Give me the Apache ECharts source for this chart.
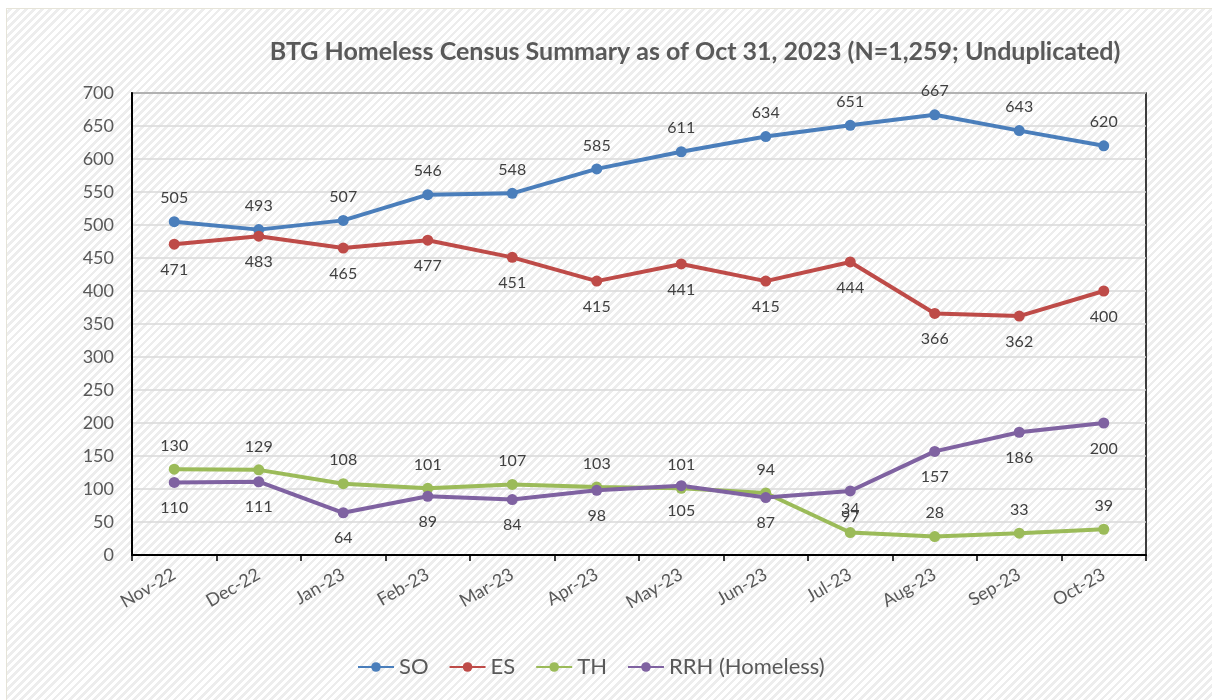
<!DOCTYPE html>
<html>
<head>
<meta charset="utf-8">
<script src="https://cdn.jsdelivr.net/npm/echarts@6/dist/echarts.min.js"></script>
<style>
  html, body { margin: 0; padding: 0; background: #fff; }
  #frame {
    position: absolute; left: 6px; top: 8px; width: 1212px; height: 700px;
    border: 1px solid #e6e4d8;
    background: repeating-linear-gradient(-45deg, #ffffff 0px, #ffffff 3px, #ededed 3px, #ededed 5.7px);
  }
  #chart { position: absolute; left: 0; top: 0; width: 1212px; height: 700px; }
</style>
</head>
<body>
<div id="frame"></div>
<div id="chart"></div>
<script>
const months = ["Nov-22", "Dec-22", "Jan-23", "Feb-23", "Mar-23", "Apr-23", "May-23", "Jun-23", "Jul-23", "Aug-23", "Sep-23", "Oct-23"];
const soValues = [505, 493, 507, 546, 548, 585, 611, 634, 651, 667, 643, 620];
const esValues = [471, 483, 465, 477, 451, 415, 441, 415, 444, 366, 362, 400];
const thValues = [130, 129, 108, 101, 107, 103, 101, 94, 34, 28, 33, 39];
const rrhValues = [110, 111, 64, 89, 84, 98, 105, 87, 97, 157, 186, 200];

const palette = {
  so: "#4a7ebb",
  es: "#be4b48",
  th: "#9bbb59",
  rrh: "#7f62a1",
  text: "#595959",
  label: "#404040",
};
const font = "Lato";

function lineSeries(name, data, color, position) {
  return {
    name,
    type: "line",
    data,
    symbol: "circle",
    symbolSize: 11,
    lineStyle: { width: 4, color },
    itemStyle: { color },
    label: {
      show: true,
      position,
      distance: position === "top" ? 10 : 12,
      color: palette.label,
      fontSize: 16,
      fontFamily: font,
    },
  };
}

const chart = echarts.init(document.getElementById("chart"), null, { renderer: "canvas" });
chart.setOption({
  backgroundColor: "transparent",
  animation: false,
  title: {
    text: "BTG Homeless Census Summary as of Oct 31, 2023 (N=1,259; Unduplicated)",
    left: 690,
    textAlign: "center",
    top: 34,
    textStyle: { color: palette.text, fontSize: 25, fontWeight: "bold", fontFamily: font },
  },
  legend: {
    bottom: 17,
    left: 352,
    itemWidth: 36,
    itemHeight: 12,
    itemGap: 20,
    textStyle: { color: palette.text, fontSize: 22, fontFamily: font },
    data: ["SO", "ES", "TH", "RRH (Homeless)"],
  },
  grid: {
    left: 132, right: 1212 - 1146, top: 93, bottom: 700 - 555,
    show: true, borderColor: "#000", borderWidth: 1.5, backgroundColor: "transparent",
  },
  xAxis: {
    type: "category",
    data: months,
    boundaryGap: true,
    axisLine: { lineStyle: { color: "#000", width: 2 } },
    axisTick: { show: true, length: 6, lineStyle: { color: "#000", width: 1.5 } },
    axisLabel: { color: palette.text, fontSize: 18, rotate: 30, margin: 18, fontFamily: font },
  },
  yAxis: {
    type: "value",
    min: 0,
    max: 700,
    interval: 50,
    axisLine: { show: true, lineStyle: { color: "#000", width: 2 } },
    axisTick: { show: false },
    axisLabel: { color: palette.text, fontSize: 18, margin: 18, fontFamily: font },
    splitLine: { lineStyle: { color: "#d9d9d9", width: 1.5 } },
  },
  series: [
    lineSeries("SO", soValues, palette.so, "top"),
    lineSeries("ES", esValues, palette.es, "bottom"),
    lineSeries("TH", thValues, palette.th, "top"),
    lineSeries("RRH (Homeless)", rrhValues, palette.rrh, "bottom"),
  ],
});
</script>
</body>
</html>
